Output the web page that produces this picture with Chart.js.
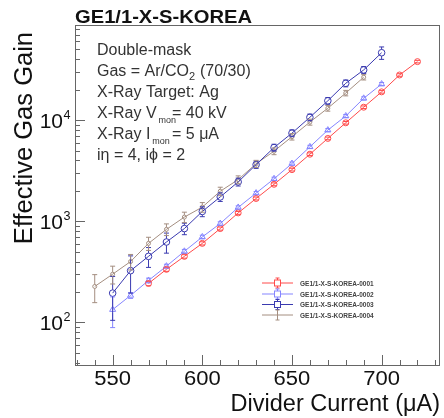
<!DOCTYPE html>
<html>
<head>
  <title>GE1/1-X-S-KOREA Effective Gas Gain</title>
  <script src="https://cdn.jsdelivr.net/npm/chart.js"></script>
  <style>
    body { margin: 0; background: #fff; }
    #gainChart { display: block; }
  </style>
</head>
<body>
  <canvas id="gainChart" width="444" height="418"></canvas>

  <script>
    // readings (divider current in uA, gain, error)
    const current0001 = [570, 580, 590, 600, 610, 620, 630, 640, 650, 660, 670, 680, 690, 700, 710, 720];
    const gain0001 = [243, 335, 450, 605, 847, 1210, 1680, 2320, 3240, 4600, 6590, 9400, 13400, 19000, 27900, 37800];
    const err0001 = [12, 15, 18, 22, 30, 40, 55, 75, 100, 140, 200, 280, 400, 560, 820, 1100];

    const current0002 = [550, 560, 570, 580, 590, 600, 610, 620, 630, 640, 650, 660, 670, 680, 690, 700];
    const gain0002 = [134, 185, 260, 360, 505, 700, 950, 1370, 1900, 2630, 3720, 5440, 7960, 10970, 16400, 22700];
    const err0002 = [45, 12, 14, 16, 22, 28, 38, 50, 70, 95, 130, 190, 280, 380, 570, 800];

    const current0003 = [550, 560, 570, 580, 590, 600, 610, 620, 630, 640, 650, 660, 670, 680, 690, 700];
    const gain0003 = [195, 325, 450, 624, 847, 1250, 1740, 2450, 3630, 5350, 7430, 10650, 15500, 23100, 31300, 46300];
    const err0003 = [90, 130, 100, 140, 110, 140, 170, 220, 300, 420, 580, 820, 1200, 1800, 2500, 6500];

    const current0004 = [540, 550, 560, 570, 580, 590, 600, 610, 620, 630, 640, 650, 660, 670, 680, 690];
    const gain0004 = [227, 300, 400, 605, 832, 1100, 1380, 1980, 2580, 3700, 4930, 6850, 9560, 13100, 18500, 26500];
    const err0004 = [70, 60, 70, 90, 110, 130, 150, 190, 230, 300, 380, 500, 650, 850, 1150, 1600];

    const seriesNames = ["GE1/1-X-S-KOREA-0001", "GE1/1-X-S-KOREA-0002", "GE1/1-X-S-KOREA-0003", "GE1/1-X-S-KOREA-0004"];

    const xMajorTicks = [550, 600, 650, 700];
    const xMinorTicks = [530, 540, 560, 570, 580, 590, 610, 620, 630, 640, 660, 670, 680, 690, 710, 720, 730];
    const yMajorTicks = [100, 1000, 10000];
    const yMajorLabels = ["2", "3", "4"];

    const infoLines = ["Double-mask", "Gas = Ar/CO", "X-Ray Target: Ag", "X-Ray V", "X-Ray I", "i\u03b7 = 4, i\u03d5 = 2"];

    const FONT = '"Liberation Sans", Arial, Helvetica, sans-serif';

    function pts(xs, ys) {
      return xs.map((x, i) => ({ x: x, y: ys[i] }));
    }

    const styles = [
      { color: '#ff4a4a', shape: 'circle', r: 3, err: err0001 },
      { color: '#8585ff', shape: 'triangle', r: 3.5, err: err0002 },
      { color: '#3a3ab0', shape: 'circle', r: 3.3, err: err0003 },
      { color: '#a48e80', shape: 'circle', r: 2, err: err0004 }
    ];

    const allData = [
      pts(current0001, gain0001),
      pts(current0002, gain0002),
      pts(current0003, gain0003),
      pts(current0004, gain0004)
    ];

    function drawText(ctx, s, x, y, font, align, color, sx) {
      ctx.save();
      ctx.font = font;
      ctx.fillStyle = color || '#222';
      ctx.textAlign = align || 'left';
      ctx.textBaseline = 'alphabetic';
      ctx.translate(x, y);
      ctx.scale(sx || 1, 1);
      ctx.fillText(s, 0, 0);
      ctx.restore();
    }

    // error bars with caps, drawn through the chart scales
    const errorBars = {
      id: 'errorBars',
      afterDatasetsDraw(chart) {
        const ctx = chart.ctx;
        const ys = chart.scales.y;
        chart.data.datasets.forEach((ds, di) => {
          const meta = chart.getDatasetMeta(di);
          const st = styles[di];
          ctx.save();
          ctx.strokeStyle = st.color;
          ctx.lineWidth = 1;
          meta.data.forEach((el, i) => {
            const v = ds.data[i].y;
            const e = st.err[i];
            const top = ys.getPixelForValue(v + e);
            const bot = ys.getPixelForValue(Math.max(v - e, 1));
            const x = el.x, y = el.y;
            ctx.beginPath();
            if (top < y - st.r) { ctx.moveTo(x, top); ctx.lineTo(x, y - st.r); }
            if (bot > y + st.r) { ctx.moveTo(x, y + st.r); ctx.lineTo(x, bot); }
            ctx.moveTo(x - 2.5, top); ctx.lineTo(x + 2.5, top);
            ctx.moveTo(x - 2.5, bot); ctx.lineTo(x + 2.5, bot);
            ctx.stroke();
          });
          ctx.restore();
        });
      }
    };

    // ROOT-like frame, inner ticks, labels and text
    const frameAndText = {
      id: 'frameAndText',
      afterDraw(chart) {
        const ctx = chart.ctx;
        const a = chart.chartArea;
        const xs = chart.scales.x, ys = chart.scales.y;
        ctx.save();
        ctx.strokeStyle = '#666';
        ctx.lineWidth = 1;
        ctx.strokeRect(a.left + 0.5, a.top + 0.5, a.right - a.left, a.bottom - a.top);

        ctx.beginPath();
        xMajorTicks.forEach(t => {
          const px = Math.round(xs.getPixelForValue(t)) + 0.5;
          ctx.moveTo(px, a.bottom); ctx.lineTo(px, a.bottom - 10);
        });
        xMinorTicks.forEach(t => {
          const px = Math.round(xs.getPixelForValue(t)) + 0.5;
          ctx.moveTo(px, a.bottom); ctx.lineTo(px, a.bottom - 5);
        });
        for (let d = 10; d <= 10000; d *= 10) {
          for (let m = 1; m <= 9; m++) {
            const v = d * m;
            if (v < ys.min || v > ys.max) continue;
            const py = Math.round(ys.getPixelForValue(v)) + 0.5;
            const len = (m === 1) ? 10 : 5;
            ctx.moveTo(a.left, py); ctx.lineTo(a.left + len, py);
          }
        }
        ctx.stroke();
        ctx.restore();

        // tick labels
        xMajorTicks.forEach(t => {
          drawText(ctx, String(t), xs.getPixelForValue(t), 385, '20px ' + FONT, 'center', '#111', 1.1);
        });
        yMajorTicks.forEach((t, i) => {
          const py = ys.getPixelForValue(t);
          drawText(ctx, '10', 63, py + 8, '20px ' + FONT, 'right', '#111', 1.05);
          drawText(ctx, yMajorLabels[i], 63.5, py - 1, '12px ' + FONT, 'left', '#111', 1.05);
        });

        // titles
        drawText(ctx, 'GE1/1-X-S-KOREA', 75, 23, 'bold 18px ' + FONT, 'left', '#111', 1.12);
        drawText(ctx, 'Divider Current (\u03bcA)', 440, 411, '23.5px ' + FONT, 'right', '#111', 1);
        ctx.save();
        ctx.translate(32, 32);
        ctx.rotate(-Math.PI / 2);
        drawText(ctx, 'Effective Gas Gain', 0, 0, '25.5px ' + FONT, 'right', '#111', 1);
        ctx.restore();

        // info box
        const f = '16px ' + FONT;
        const sub = '9px ' + FONT;
        const x0 = 97;
        const base = [55, 76, 97, 118, 139, 160];
        drawText(ctx, infoLines[0], x0, base[0], f, 'left', '#333');
        ctx.font = f;
        drawText(ctx, infoLines[1], x0, base[1], f, 'left', '#333');
        let w = ctx.measureText(infoLines[1]).width;
        drawText(ctx, '2', x0 + w, base[1] + 4, '11px ' + FONT, 'left', '#333');
        drawText(ctx, '(70/30)', x0 + w + 11, base[1], f, 'left', '#333');
        drawText(ctx, infoLines[2], x0, base[2], f, 'left', '#333');
        ctx.font = f;
        w = ctx.measureText(infoLines[3]).width;
        drawText(ctx, infoLines[3], x0, base[3], f, 'left', '#333');
        drawText(ctx, 'mon', x0 + w + 2, base[3] + 5, sub, 'left', '#333');
        drawText(ctx, '= 40 kV', 172, base[3], f, 'left', '#333');
        ctx.font = f;
        w = ctx.measureText(infoLines[4]).width;
        drawText(ctx, infoLines[4], x0, base[4], f, 'left', '#333');
        drawText(ctx, 'mon', x0 + w + 2, base[4] + 5, sub, 'left', '#333');
        drawText(ctx, '= 5 \u03bcA', 172, base[4], f, 'left', '#333');
        drawText(ctx, infoLines[5], x0, base[5], f, 'left', '#333');

        // legend
        const rows = [283, 294, 304.5, 315];
        seriesNames.forEach((name, i) => {
          const st = styles[i];
          const y = rows[i];
          ctx.save();
          ctx.strokeStyle = st.color;
          ctx.lineWidth = 1;
          ctx.beginPath();
          ctx.moveTo(262, y); ctx.lineTo(293, y);
          ctx.moveTo(277.5, y - 5); ctx.lineTo(277.5, y + 5);
          ctx.moveTo(275.5, y - 5); ctx.lineTo(279.5, y - 5);
          ctx.moveTo(275.5, y + 5); ctx.lineTo(279.5, y + 5);
          ctx.stroke();
          ctx.fillStyle = '#fff';
          if (i !== 3) {
            ctx.fillRect(274.5, y - 3, 6, 6);
            ctx.strokeRect(274.5, y - 3, 6, 6);
          }
          ctx.restore();
          drawText(ctx, name, 300, y + 2.5, 'bold 6.5px ' + FONT, 'left', '#444');
        });
      }
    };

    new Chart(document.getElementById('gainChart').getContext('2d'), {
      type: 'scatter',
      data: {
        datasets: allData.map((d, i) => ({
          label: seriesNames[i],
          data: d,
          showLine: true,
          borderColor: styles[i].color,
          borderWidth: 1,
          pointStyle: styles[i].shape,
          pointRadius: styles[i].r,
          pointBorderWidth: 1,
          pointBorderColor: styles[i].color,
          pointBackgroundColor: 'rgba(0,0,0,0)',
          tension: 0
        }))
      },
      options: {
        responsive: false,
        animation: false,
        layout: { padding: { left: 75, right: 4, top: 25, bottom: 53 } },
        plugins: { legend: { display: false }, tooltip: { enabled: false } },
        scales: {
          x: { type: 'linear', min: 529, max: 732, display: false },
          y: { type: 'logarithmic', min: 38, max: 87000, display: false }
        }
      },
      plugins: [errorBars, frameAndText]
    });
  </script>
</body>
</html>
